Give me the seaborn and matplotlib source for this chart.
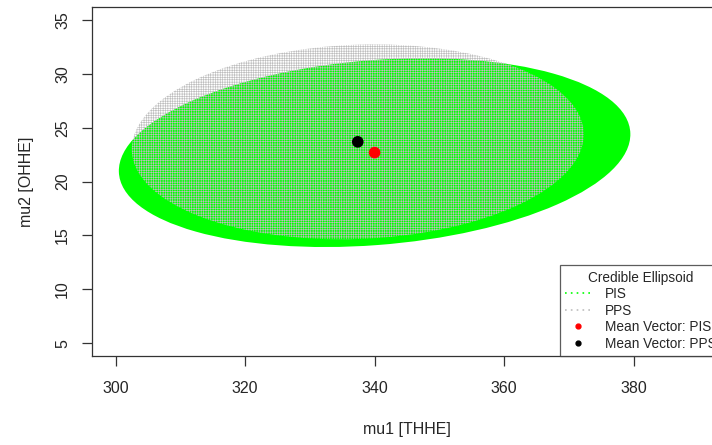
import numpy as np
import pandas as pd
import matplotlib
matplotlib.use("Agg")
import matplotlib.pyplot as plt
from matplotlib.patches import Ellipse
from matplotlib.lines import Line2D
import seaborn as sns

# --- Data ---

groups = ["PIS", "PPS"]
mean_mu1 = [340.0, 337.4]
mean_mu2 = [22.7, 23.7]
# scaled covariance (credible region) of each posterior: [s11, s12, s22]
pis_cov = [1560.0, 67.0, 77.0]
pps_cov = [1218.0, 24.0, 82.0]
x_ticks = [300, 320, 340, 360, 380]
y_ticks = [5, 10, 15, 20, 25, 30, 35]
legend_labels = ["PIS", "PPS", "Mean Vector: PIS", "Mean Vector: PPS"]

R_GREEN = "#00FF00"
R_GRAY = "#BEBEBE"

# --- Style ---

sns.set_theme(style="ticks")
plt.rcParams["font.family"] = ["Liberation Sans", "DejaVu Sans"]
plt.rcParams["hatch.linewidth"] = 0.45


def ellipse_from_cov(center, cov, **kw):
    s = np.array([[cov[0], cov[1]], [cov[1], cov[2]]])
    vals, vecs = np.linalg.eigh(s)
    order = vals.argsort()[::-1]
    vals, vecs = vals[order], vecs[:, order]
    angle = np.degrees(np.arctan2(vecs[1, 0], vecs[0, 0]))
    return Ellipse(center, 2 * np.sqrt(vals[0]), 2 * np.sqrt(vals[1]), angle=angle, **kw)


fig = plt.figure(figsize=(7.12, 4.45), dpi=100)
ax = fig.add_axes([0.1296, 0.2, 0.884, 0.7836])

# PIS ellipse (solid green) then PPS ellipse (gray dotted grid) on top
ax.add_patch(ellipse_from_cov((mean_mu1[0], mean_mu2[0]), pis_cov,
                              facecolor=R_GREEN, edgecolor="none", zorder=2))
ax.add_patch(ellipse_from_cov((mean_mu1[1], mean_mu2[1]), pps_cov,
                              facecolor="none", edgecolor=R_GRAY, linewidth=0,
                              hatch="+++++++", zorder=3))

means = pd.DataFrame({"mu1": mean_mu1, "mu2": mean_mu2, "group": groups})
sns.scatterplot(data=means, x="mu1", y="mu2", hue="group",
                palette={"PIS": "red", "PPS": "black"}, s=70,
                edgecolor="none", legend=False, ax=ax, zorder=5)

ax.set_xlim(296.4, 393.6)
ax.set_ylim(3.8, 36.2)
ax.set_xticks(x_ticks)
ax.set_yticks(y_ticks)
ax.set_xlabel("mu1 [THHE]", fontsize=11.5, labelpad=19)
ax.set_ylabel("mu2 [OHHE]", fontsize=11.5, labelpad=15)
ax.tick_params(axis="both", labelsize=11.5, length=7, width=0.9, color="#333333",
               direction="out", pad=11)
ax.tick_params(axis="y", labelrotation=90, pad=9)
for lab in ax.get_yticklabels():
    lab.set_va("center")
for sp in ax.spines.values():
    sp.set_color("#333333")
    sp.set_linewidth(0.9)

handles = [
    Line2D([], [], color=R_GREEN, linestyle=(0, (1, 2.5)), linewidth=1.2),
    Line2D([], [], color=R_GRAY, linestyle=(0, (1, 2.5)), linewidth=1.2),
    Line2D([], [], color="red", marker="o", linestyle="none", markersize=3.5),
    Line2D([], [], color="black", marker="o", linestyle="none", markersize=3.5),
]
leg = fig.legend(handles, legend_labels, title="Credible Ellipsoid",
                 loc="lower left", bbox_to_anchor=(560 / 712, 89 / 445),
                 fontsize=9.8, title_fontsize=9.8, frameon=True, fancybox=False,
                 borderpad=0.4, labelspacing=0.18, handlelength=1.8,
                 handletextpad=1.1, borderaxespad=0)
leg.get_frame().set_edgecolor("#333333")
leg.get_frame().set_linewidth(0.9)
leg.set_zorder(10)

fig.savefig("out.png", dpi=100)
